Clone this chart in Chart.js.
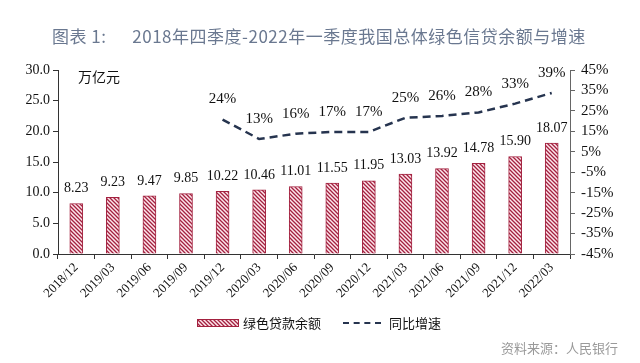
<!DOCTYPE html>
<html>
<head>
<meta charset="utf-8">
<script src="https://cdn.jsdelivr.net/npm/chart.js@4"></script>
<style>
  html, body { margin: 0; padding: 0; background: #fff; }
  #wrap { position: relative; width: 640px; height: 363px; overflow: hidden; }
  #title { position: absolute; left: 52px; top: 23px; font: 17px "Noto Sans CJK SC", sans-serif; color: #6a7890; white-space: pre; letter-spacing: 0.5px; }
  #legend { position: absolute; top: 313px; left: 197px; font: 13px "Noto Sans CJK SC", serif; color: #111; display: flex; align-items: center; }
  #legend .box { width: 42px; height: 8px; border: 1px solid #a3213f; box-sizing: border-box; margin-right: 4px; }
  #legend .dash { width: 38px; border-top: 2.5px dashed #26344f; margin: 0 8px 0 22px; }
  #source { position: absolute; right: 22px; top: 338px; font: 13px "Noto Sans CJK SC", sans-serif; color: #9a9a9a; }
  #unit { position: absolute; left: 78px; top: 66px; font: 14px "Noto Sans CJK SC", serif; color: #111; }
</style>
</head>
<body>
<div id="wrap">
  <canvas id="chart" width="640" height="363"></canvas>
  <div id="title">图表 1:      2018年四季度-2022年一季度我国总体绿色信贷余额与增速</div>
  <div id="unit">万亿元</div>
  <div id="legend"><span class="box" id="legBox"></span><span>绿色贷款余额</span><span class="dash"></span><span>同比增速</span></div>
  <div id="source">资料来源：人民银行</div>
</div>
<script>
const categories = ['2018/12','2019/03','2019/06','2019/09','2019/12','2020/03','2020/06','2020/09','2020/12','2021/03','2021/06','2021/09','2021/12','2022/03'];
const loanBalance = [8.23, 9.23, 9.47, 9.85, 10.22, 10.46, 11.01, 11.55, 11.95, 13.03, 13.92, 14.78, 15.90, 18.07];
const growthRate = [null, null, null, null, 24, 13, 16, 17, 17, 25, 26, 28, 33, 39];

// hatch pattern for the bars
function makeHatch() {
    const c = document.createElement('canvas');
    c.width = 4; c.height = 4;
    const g = c.getContext('2d');
    g.fillStyle = '#fde6ec';
    g.fillRect(0, 0, 4, 4);
    g.strokeStyle = '#a3213f';
    g.lineWidth = 1.3;
    g.beginPath();
    g.moveTo(-1, -1); g.lineTo(5, 5);
    g.moveTo(-1, 3); g.lineTo(1, 5);
    g.moveTo(3, -1); g.lineTo(5, 1);
    g.stroke();
    return c;
}
const hatchCanvas = makeHatch();
const ctx = document.getElementById('chart').getContext('2d');
const hatch = ctx.createPattern(hatchCanvas, 'repeat');
const legBox = document.getElementById('legBox');
legBox.style.backgroundImage = `url(${hatchCanvas.toDataURL()})`;

const serif = 'Liberation Serif';

// labels above bars and line points
const valueLabels = {
    id: 'valueLabels',
    afterDatasetsDraw(chart) {
        const c = chart.ctx;
        c.save();
        c.fillStyle = '#111';
        c.textAlign = 'center';
        c.textBaseline = 'middle';
        c.font = `14px "${serif}"`;
        chart.getDatasetMeta(0).data.forEach((bar, i) => {
            c.fillText(loanBalance[i].toFixed(2), bar.x, bar.y - 15);
        });
        c.font = `15px "${serif}"`;
        chart.getDatasetMeta(1).data.forEach((pt, i) => {
            if (growthRate[i] === null) return;
            c.fillText(growthRate[i] + '%', pt.x, pt.y - 20);
        });
        c.restore();
    }
};

new Chart(ctx, {
    type: 'bar',
    data: {
        labels: categories,
        datasets: [{
            label: '绿色贷款余额',
            data: loanBalance,
            backgroundColor: hatch,
            borderColor: '#a3213f',
            borderWidth: 1,
            barThickness: 13,
            yAxisID: 'y',
            order: 2
        }, {
            type: 'line',
            label: '同比增速',
            data: growthRate,
            borderColor: '#26344f',
            borderWidth: 2.5,
            borderDash: [8, 5],
            pointRadius: 0,
            tension: 0,
            fill: false,
            yAxisID: 'y2',
            order: 1
        }]
    },
    options: {
        responsive: false,
        animation: false,
        layout: { padding: { top: 70, bottom: 59, left: 0, right: 0 } },
        plugins: { legend: { display: false }, tooltip: { enabled: false } },
        scales: {
            x: {
                grid: { display: true, drawOnChartArea: false, color: '#333', tickLength: 5 },
                border: { color: '#333', width: 1 },
                ticks: {
                    color: '#111', font: { family: serif, size: 13 },
                    maxRotation: 45, minRotation: 45, autoSkip: false, padding: 1
                },
                afterFit(s) { s.height = 50; }
            },
            y: {
                position: 'left',
                min: 0, max: 30,
                grid: { display: true, drawOnChartArea: false, color: '#333', tickLength: 5 },
                border: { color: '#333', width: 1 },
                ticks: {
                    stepSize: 5, color: '#111', font: { family: serif, size: 14 }, padding: 3,
                    autoSkip: false, callback: v => v.toFixed(1)
                },
                afterFit(s) { s.width = 58; }
            },
            y1: {
                position: 'right',
                min: -45, max: 45,
                grid: { display: true, drawOnChartArea: false, color: '#666', tickLength: 5 },
                border: { color: '#666', width: 1 },
                ticks: {
                    stepSize: 10, color: '#111', font: { family: serif, size: 15 }, padding: 6,
                    autoSkip: false, callback: v => v + '%'
                },
                afterFit(s) { s.width = 70; }
            },
            y2: {
                display: false,
                min: -52, max: 52
            }
        }
    },
    plugins: [valueLabels]
});
</script>
</body>
</html>
